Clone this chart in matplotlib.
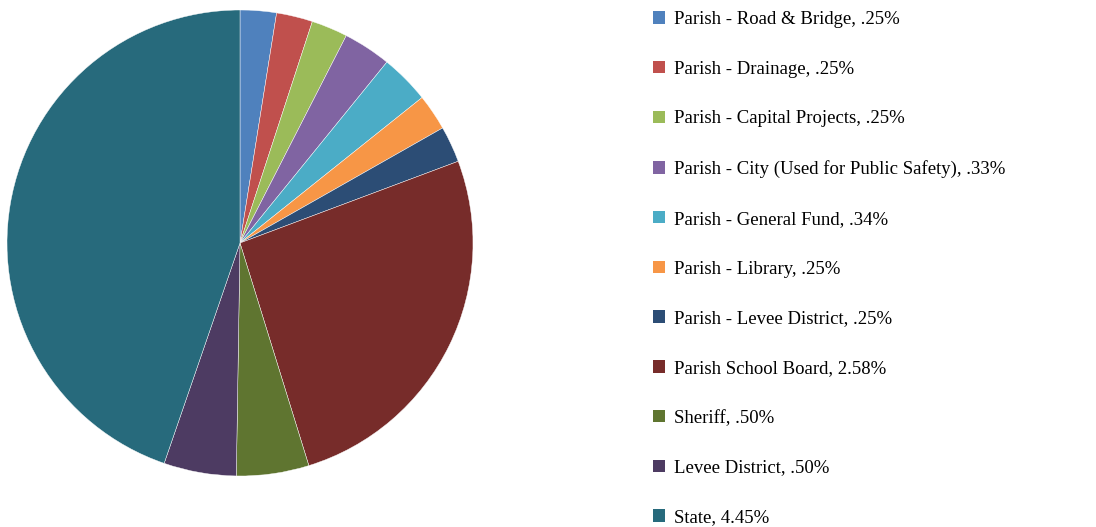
import matplotlib.pyplot as plt
from matplotlib.patches import Patch

labels = ['Parish - Road & Bridge, .25%', 'Parish - Drainage, .25%', 'Parish - Capital Projects, .25%',
          'Parish - City (Used for Public Safety), .33%', 'Parish - General Fund, .34%',
          'Parish - Library, .25%', 'Parish - Levee District, .25%', 'Parish School Board, 2.58%',
          'Sheriff, .50%', 'Levee District, .50%', 'State, 4.45%']
values = [0.25, 0.25, 0.25, 0.33, 0.34, 0.25, 0.25, 2.58, 0.50, 0.50, 4.45]
colors = ['#4F81BD', '#C0504D', '#9BBB59', '#8064A2', '#4BACC6', '#F79646',
          '#2C4D75', '#772C2A', '#5F7530', '#4D3B62', '#276A7C']

plt.rcParams['font.family'] = 'Liberation Serif'

fig = plt.figure(figsize=(10.96, 5.27), dpi=100)
W, H = 1096, 527
cx, cy, r = 240, 243, 233
ax = fig.add_axes([(cx - r) / W, (H - cy - r) / H, 2 * r / W, 2 * r / H])
wedges, _ = ax.pie(values, colors=colors, startangle=90, counterclock=False,
                   wedgeprops=dict(linewidth=0.3, edgecolor='white'))
ax.set_xlim(-1, 1)
ax.set_ylim(-1, 1)
ax.set_aspect('equal')

handles = [Patch(facecolor=c, edgecolor='none') for c in colors]
fig.legend(handles, labels, loc='upper left', bbox_to_anchor=(653 / W, 1 - 11 / H),
           frameon=False, fontsize=13.5, handlelength=0.65, handleheight=0.65,
           handletextpad=0.45, labelspacing=1.745, borderaxespad=0, borderpad=0)

fig.savefig('out.png', dpi=100)
